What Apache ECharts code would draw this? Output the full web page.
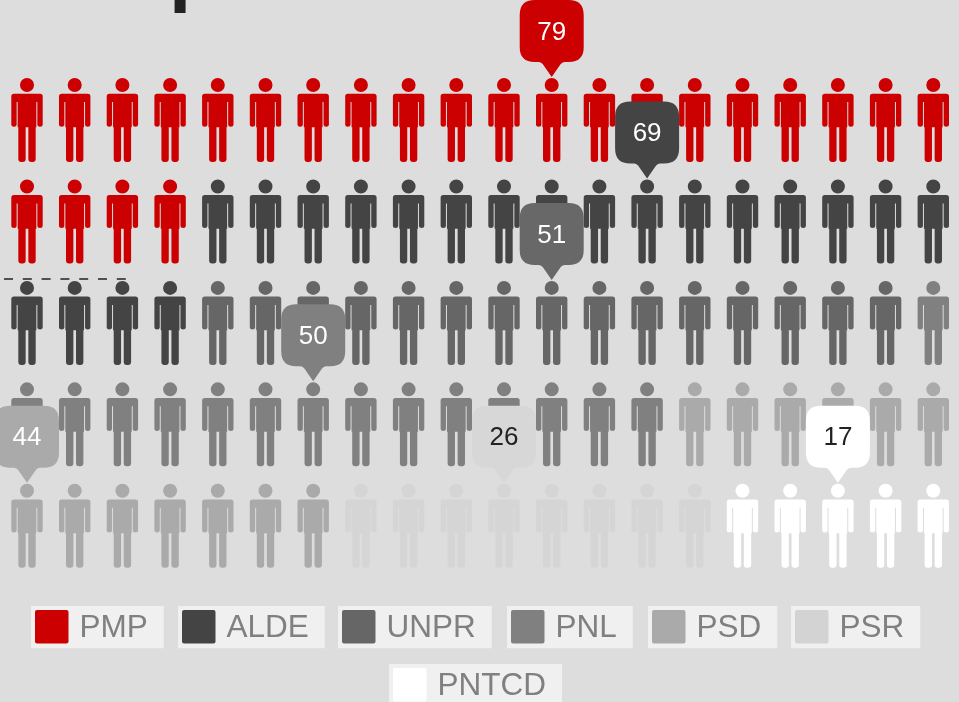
<!DOCTYPE html>
<html><head><meta charset="utf-8">
<style>html,body{margin:0;padding:0;background:#dddddd;overflow:hidden}#c{width:959px;height:702px;filter:blur(0.55px)}</style>
<script src="https://cdn.jsdelivr.net/npm/echarts@6/dist/echarts.min.js"></script>
</head><body><div id="c"></div>
<script>
var parties = ['PMP','ALDE','UNPR','PNL','PSD','PSR','PNTCD'];
var seats = [79,69,51,50,44,26,17];
var iconCounts = [24,20,15,15,13,8,5];
var calloutIcon = [11,33,51,66,80,90,97];
var colors = ['#cc0000','#444444','#666666','#808080','#aaaaaa','#d3d3d3','#ffffff'];
var iconColors = ['#cc0000','#444444','#666666','#808080','#aaaaaa','#d5d5d5','#ffffff'];
var bubbleColors = ['#cc0000','#444444','#686868','#808080','#aaaaaa','#d7d7d7','#ffffff'];
var labelColors = ['#ffffff','#ffffff','#ffffff','#ffffff','#ffffff','#222222','#222222'];
var legendLeft = [31,178,338,507,648,791,389];
var legendTop = [606,606,606,606,606,606,664];
var perRow = 20;
var thresholdX = [-0.482,2.096];
var thresholdY = 1.56;

var PERSON = 'path://M47 0A21 21 0 1 1 47 42A21 21 0 1 1 47 0ZM8 47H86Q94 47 94 55V140Q94 146 86 146Q78 146 78 140V72H75V148H73V243Q73 252 64 252H60Q51 252 51 243V148H43V243Q43 252 34 252H30Q21 252 21 243V148H19V72H16V140Q16 146 8 146Q0 146 0 140V55Q0 47 8 47Z';
var BUBBLE = 'path://M15 0H49Q64 0 64 15V47Q64 62 49 62H45Q43 62 41 64L32 77L23 64Q21 62 19 62H15Q0 62 0 47V15Q0 0 15 0Z';
var SWATCH = 'path://M2 0H31Q33 0 33 2V31Q33 33 31 33H2Q0 33 0 31V2Q0 0 2 0Z';

function pos(i){ return [i % perRow, Math.floor(i / perRow)]; }

var start = 0;
var series = parties.map(function(name, p){
  var data = [];
  for (var k = 0; k < iconCounts[p]; k++) data.push(pos(start + k));
  start += iconCounts[p];
  return {
    type:'scatter', name:name, data:data, symbol:PERSON, symbolSize:[31.4,84],
    symbolKeepAspect:false, z:2, silent:true, animation:false,
    itemStyle:{color:iconColors[p], opacity:1},
    markPoint:{
      silent:true, animation:false, z:10, symbol:BUBBLE, symbolSize:[64,77],
      symbolOffset:[0,-81.5], symbolKeepAspect:false,
      itemStyle:{color:bubbleColors[p]},
      label:{show:true, position:'inside', offset:[0,-6], formatter:String(seats[p]),
             color:labelColors[p], fontSize:26, fontFamily:'Liberation Sans'},
      data:[{coord:pos(calloutIcon[p])}]
    }
  };
});
series.push({
  type:'scatter', data:[], silent:true, animation:false,
  markLine:{silent:true, animation:false, symbol:'none', label:{show:false},
    lineStyle:{color:'#222222', width:1.5, type:[9,9.8], opacity:1},
    data:[[{coord:[thresholdX[0],thresholdY]},{coord:[thresholdX[1],thresholdY]}]]}
});

var legends = parties.map(function(name,p){
  return {
    data:[{name:name, icon:SWATCH, itemStyle:{color:colors[p]}}], left:legendLeft[p], top:legendTop[p], orient:'horizontal',
    itemWidth:33.5, itemHeight:33.5, padding:[4,16,4,4], backgroundColor:'#f0f0f0',
    selectedMode:false, formatter:'{t|{name}}',
    textStyle:{color:'#808080', fontSize:31.5, fontFamily:'Liberation Sans',
      rich:{t:{color:'#808080', fontSize:31.5, fontFamily:'Liberation Sans', padding:[3,0,0,6], lineHeight:24, height:24}}}
  };
});

var chart = echarts.init(document.getElementById('c'), null, {renderer:'canvas'});
chart.setOption({
  animation:false, backgroundColor:'#dddddd',
  grid:{left:3.15, right:1.85, top:120, height:405.8},
  xAxis:{type:'value', min:-0.5, max:19.5, show:false},
  yAxis:{type:'value', min:0, max:4, inverse:true, show:false},
  legend:legends,
  graphic:[{type:'text', silent:true,
    style:{x:169, y:-66, text:'p', font:'bold 80px Liberation Sans', fill:'#222222', verticalAlign:'top'}}],
  series:series
});
</script></body></html>
